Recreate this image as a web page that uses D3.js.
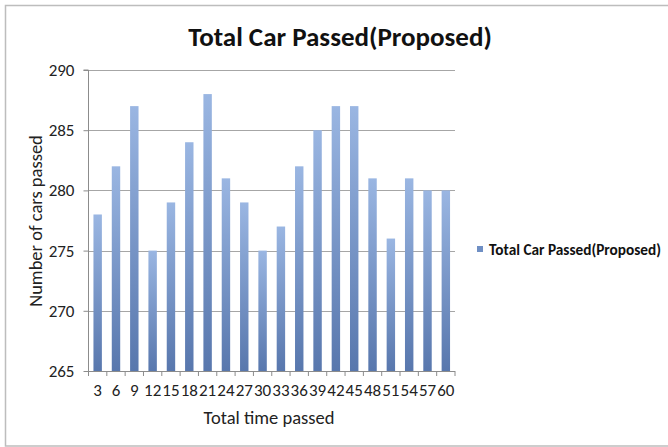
<!DOCTYPE html>
<html><head><meta charset="utf-8">
<script src="https://cdn.jsdelivr.net/npm/d3@7"></script>
<style>body{margin:0;background:#fff}svg{display:block}</style>
</head><body>
<script>
const categories = ["3","6","9","12","15","18","21","24","27","30","33","36","39","42","45","48","51","54","57","60"];
const values = [278,282,287,275,279,284,288,281,279,275,277,282,285,287,287,281,276,281,280,280];
const yTicks = [265,270,275,280,285,290];
const seriesName = "Total Car Passed(Proposed)";
const titleText = "Total Car Passed(Proposed)";

const W = 668, H = 447;
const svg = d3.select("body").append("svg").attr("width", W).attr("height", H);
const font = "Carlito, 'Liberation Sans', Arial, sans-serif";

const defs = svg.append("defs");
const grad = defs.append("linearGradient").attr("id","barGrad").attr("x1",0).attr("y1",0).attr("x2",0).attr("y2",1);
grad.append("stop").attr("offset","0%").attr("stop-color","#9ab6e2");
grad.append("stop").attr("offset","100%").attr("stop-color","#5877ad");

svg.append("rect").attr("x",5.5).attr("y",5.5).attr("width",670).attr("height",440.5)
  .attr("fill","#fff").attr("stroke","#bdbdbd").attr("stroke-width",1.5);

const m = {left:88.5, right:455, top:70, bottom:371};
const x = d3.scaleBand().domain(categories).range([m.left, m.right]).paddingInner(0.54).paddingOuter(0.27);
const y = d3.scaleLinear().domain([265,290]).range([m.bottom, m.top]);

// gridlines
svg.append("g").selectAll("line").data(yTicks.filter(t=>t>265)).join("line")
  .attr("x1", m.left).attr("x2", m.right)
  .attr("y1", d=>Math.round(y(d))+0.5).attr("y2", d=>Math.round(y(d))+0.5)
  .attr("stroke","#a6a6a6").attr("stroke-width",1);

// bars
svg.append("g").selectAll("rect").data(values).join("rect")
  .attr("x",(d,i)=>x(categories[i]))
  .attr("width",x.bandwidth())
  .attr("y",d=>y(d))
  .attr("height",d=>y(265)-y(d))
  .attr("fill","url(#barGrad)");

// y axis
const yAxis = d3.axisLeft(y).tickValues(yTicks).tickSize(5).tickPadding(9).tickFormat(d3.format("d"));
const gy = svg.append("g").attr("transform",`translate(${m.left},0)`).call(yAxis);
gy.select(".domain").attr("stroke","#8c8c8c").attr("d",`M-5,${m.top}H0V${m.bottom}`);
gy.selectAll(".tick line").attr("stroke","#8c8c8c");
gy.selectAll("text").attr("font-family",font).attr("font-size",17).attr("fill","#222");

// x axis
const xEdges = d3.scalePoint().domain(d3.range(categories.length+1)).range([m.left, m.right]);
const gx = svg.append("g").attr("transform",`translate(0,${m.bottom})`);
gx.append("line").attr("x1",m.left).attr("x2",m.right).attr("y1",0.5).attr("y2",0.5).attr("stroke","#8c8c8c");
gx.selectAll(".tk").data(d3.range(categories.length+1)).join("line")
  .attr("x1",d=>xEdges(d)).attr("x2",d=>xEdges(d)).attr("y1",0).attr("y2",5).attr("stroke","#8c8c8c");
gx.selectAll("text").data(categories).join("text")
  .attr("x",d=>x(d)+x.bandwidth()/2).attr("y",25).attr("text-anchor","middle")
  .attr("font-family",font).attr("font-size",17).attr("fill","#222").text(d=>d);

// title
svg.append("text").attr("x",340).attr("y",46).attr("text-anchor","middle")
  .attr("font-family",font).attr("font-size",27).attr("font-weight","bold").attr("fill","#111").text(titleText);

// axis titles
svg.append("text").attr("x",269).attr("y",424).attr("text-anchor","middle")
  .attr("font-family",font).attr("font-size",18.5).attr("fill","#222").text("Total time passed");
svg.append("text").attr("transform","translate(42,221) rotate(-90)").attr("text-anchor","middle")
  .attr("font-family",font).attr("font-size",18.5).attr("fill","#222").text("Number of cars passed");

// legend
const lg = svg.append("g").attr("transform","translate(477,250)");
lg.append("rect").attr("x",0).attr("y",-4).attr("width",6).attr("height",6).attr("fill","#6f8fc4");
lg.append("text").attr("x",12).attr("y",5).attr("font-family",font).attr("font-size",15.3).attr("font-weight","bold").attr("fill","#111").text(seriesName);
</script>
</body></html>
